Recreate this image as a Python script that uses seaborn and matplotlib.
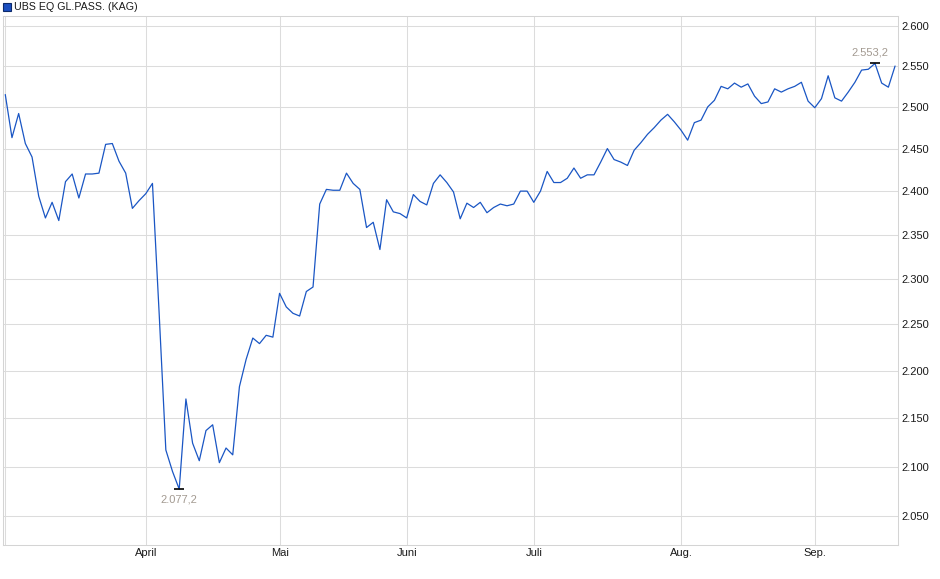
import numpy as np
import pandas as pd
import matplotlib
matplotlib.use("Agg")
import matplotlib.pyplot as plt
import seaborn as sns
from matplotlib.ticker import FixedLocator, NullLocator, FuncFormatter

# ---------------- data ----------------
series_name = "UBS EQ GL.PASS. (KAG)"

nav = [
    2515, 2463, 2492, 2456, 2440, 2394, 2369, 2387, 2366, 2411,
    2420, 2392, 2420, 2420, 2421, 2455, 2456, 2435, 2421, 2380,
    2389, 2397, 2409, 2262, 2117, 2095, 2077.2, 2170, 2124, 2106,
    2137, 2143, 2104, 2119, 2112, 2183, 2212, 2235, 2229, 2238,
    2236, 2284, 2269, 2262, 2259, 2286, 2291, 2385, 2402, 2401,
    2401, 2421, 2409, 2402, 2358, 2364, 2333, 2390, 2376, 2374,
    2369, 2396, 2388, 2384, 2409, 2419, 2410, 2399, 2368, 2386,
    2381, 2387, 2375, 2381, 2385, 2383, 2385, 2400, 2400, 2387,
    2400, 2423, 2410, 2410, 2415, 2427, 2415, 2419, 2419, 2434,
    2450, 2437, 2434, 2430, 2448, 2457, 2467, 2475, 2484, 2491,
    2482, 2472, 2460, 2481, 2484, 2500, 2508, 2525, 2522, 2529,
    2524, 2528, 2513, 2504, 2506, 2522, 2518, 2522, 2525, 2530,
    2507, 2499, 2510, 2538, 2511, 2507, 2518, 2530, 2545, 2546,
    2553.2, 2529, 2524, 2550,
]

# first trading day of each month (index into nav); March has no label
month_start_idx = [0, 21, 41, 60, 79, 101, 121]
month_labels = ["", "April", "Mai", "Juni", "Juli", "Aug.", "Sep."]

y_ticks = [2050, 2100, 2150, 2200, 2250, 2300, 2350, 2400, 2450, 2500, 2550, 2600]

# ---------------- styling ----------------
sns.set_style("white")
plt.rcParams["font.family"] = ["Liberation Sans", "DejaVu Sans"]

LINE = "#1a56c4"
GRID = "#dcdcdc"
LABEL_GRAY = "#a39a91"
TXT = "#1a1a1a"

df = pd.DataFrame({"day": np.arange(len(nav)), "nav": nav})

fig = plt.figure(figsize=(9.4, 5.79), dpi=100)
ax = fig.add_axes([3 / 940, 1 - 545 / 579, 895 / 940, 529 / 579])

sns.lineplot(data=df, x="day", y="nav", ax=ax, color=LINE, linewidth=0.9)

ax.set_yscale("log")
ax.set_xlim(-0.34, 133.44)
ax.set_ylim(2021.7, 2612.6)

ax.yaxis.set_major_locator(FixedLocator(y_ticks))
ax.yaxis.set_minor_locator(NullLocator())
ax.yaxis.set_major_formatter(FuncFormatter(lambda v, p: f"{v:,.0f}".replace(",", ".")))
ax.yaxis.tick_right()
ax.yaxis.set_label_position("right")

ax.xaxis.set_major_locator(FixedLocator(month_start_idx))
ax.set_xticklabels(month_labels)

ax.set_xlabel("")
ax.set_ylabel("")

ax.grid(True, which="major", color=GRID, linewidth=0.75)
ax.set_axisbelow(True)
ax.tick_params(axis="both", length=0, labelsize=8, colors=TXT)
ax.tick_params(axis="y", pad=2.8)
ax.tick_params(axis="x", pad=2.3)
for s in ax.spines.values():
    s.set_color("#d4d4d4")
    s.set_linewidth(0.75)

# min / max annotations
arr = np.array(nav)
for idx, dy, dx, va in [(int(arr.argmin()), -4, 0, "top"), (int(arr.argmax()), 4, -3.3, "bottom")]:
    v = arr[idx]
    ax.plot([idx], [v], marker="_", markersize=6.5, markeredgewidth=1.2, color="black", zorder=5)
    lbl = f"{v:,.1f}".replace(",", "X").replace(".", ",").replace("X", ".")
    ax.annotate(lbl, xy=(idx, v), xytext=(dx, dy), textcoords="offset points",
                ha="center", va=va, fontsize=8, color=LABEL_GRAY)

# legend-like title at top-left
fig.patches.append(plt.Rectangle((3.3 / 940, 1 - 10.5 / 579), 7.5 / 940, 7.5 / 579,
                                 transform=fig.transFigure, facecolor="#1b4fc0",
                                 edgecolor="#0d2a6b", linewidth=0.8))
fig.text(14 / 940, 1 - 6.6 / 579, series_name, fontsize=7.7, color=TXT,
         ha="left", va="center")

fig.savefig("out.png", dpi=100)
